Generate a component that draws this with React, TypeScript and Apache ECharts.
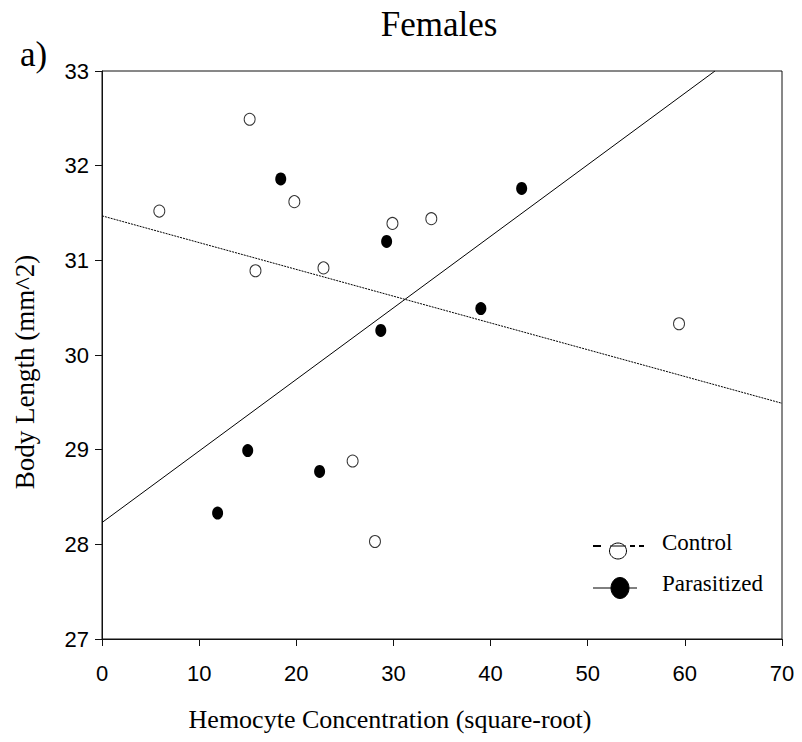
import React, { useEffect, useRef } from "react";
import * as echarts from "echarts";

const titleText = "Females";
const panelLabel = "a)";
const xAxisName = "Hemocyte Concentration (square-root)";
const yAxisName = "Body Length (mm^2)";
const seriesNames = ["Control", "Parasitized"];

const controlX = [5.9, 15.2, 19.8, 15.8, 22.8, 29.9, 33.9, 25.8, 28.1, 59.4];
const controlY = [31.52, 32.49, 31.62, 30.89, 30.92, 31.39, 31.44, 28.88, 28.03, 30.33];

const parasitizedX = [18.4, 29.3, 39.0, 28.7, 15.0, 11.9, 22.4, 43.2];
const parasitizedY = [31.86, 31.2, 30.49, 30.26, 28.99, 28.33, 28.77, 31.76];

// regression line end points
const controlFitX = [0, 70];
const controlFitY = [31.47, 29.49];
const parasitizedFitX = [0, 63.1];
const parasitizedFitY = [28.23, 33];

const xTicks = [0, 10, 20, 30, 40, 50, 60, 70];
const yTicks = [27, 28, 29, 30, 31, 32, 33];

const serif = "'Liberation Serif', 'Times New Roman', serif";
const sans = "'Liberation Sans', Arial, sans-serif";

export default function App() {
  const ref = useRef<HTMLDivElement>(null);

  useEffect(() => {
    if (!ref.current) return;
    const chart = echarts.init(ref.current, undefined, { renderer: "svg" });
    const zip = (xs: number[], ys: number[]) => xs.map((x, i) => [x, ys[i]]);

    chart.setOption({
      animation: false,
      backgroundColor: "#fff",
      grid: {
        left: 102,
        right: 20,
        top: 71,
        bottom: 103,
        show: true,
        borderColor: "#111",
        borderWidth: 1,
        containLabel: false,
      },
      xAxis: {
        type: "value",
        min: xTicks[0],
        max: xTicks[xTicks.length - 1],
        interval: 10,
        axisLine: { show: true, lineStyle: { color: "#111", width: 1 } },
        axisTick: { show: true, inside: false, length: 7, lineStyle: { color: "#111" } },
        axisLabel: { fontFamily: sans, fontSize: 22, color: "#000", margin: 23 },
        splitLine: { show: false },
      },
      yAxis: {
        type: "value",
        min: yTicks[0],
        max: yTicks[yTicks.length - 1],
        interval: 1,
        axisLine: { show: true, lineStyle: { color: "#111", width: 1 } },
        axisTick: { show: true, inside: false, length: 7, lineStyle: { color: "#111" } },
        axisLabel: { fontFamily: sans, fontSize: 22, color: "#000", margin: 13 },
        splitLine: { show: false },
      },
      series: [
        {
          name: seriesNames[0] + " fit",
          type: "line",
          data: zip(controlFitX, controlFitY),
          showSymbol: false,
          lineStyle: { color: "#000", width: 1, type: [2, 1] },
          silent: true,
          z: 1,
        },
        {
          name: seriesNames[1] + " fit",
          type: "line",
          data: zip(parasitizedFitX, parasitizedFitY),
          showSymbol: false,
          lineStyle: { color: "#000", width: 1, type: "solid" },
          silent: true,
          z: 1,
        },
        {
          name: seriesNames[0],
          type: "scatter",
          data: zip(controlX, controlY),
          symbol: "circle",
          symbolSize: [11, 12],
          itemStyle: { color: "#fff", borderColor: "#000", borderWidth: 1 },
          z: 3,
        },
        {
          name: seriesNames[1],
          type: "scatter",
          data: zip(parasitizedX, parasitizedY),
          symbol: "circle",
          symbolSize: [11, 13],
          itemStyle: { color: "#000", opacity: 1 },
          z: 3,
        },
      ],
      graphic: [
        {
          type: "text",
          position: [439, 24],
          style: {
            text: titleText,
            fontFamily: serif,
            fontSize: 35,
            fill: "#000",
            align: "center",
            verticalAlign: "middle",
          },
        },
        {
          type: "text",
          position: [20, 54],
          style: {
            text: panelLabel,
            fontFamily: serif,
            fontSize: 35,
            fill: "#000",
            align: "left",
            verticalAlign: "middle",
          },
        },
        {
          type: "text",
          position: [390, 719],
          style: {
            text: xAxisName,
            fontFamily: serif,
            fontSize: 26,
            fill: "#000",
            align: "center",
            verticalAlign: "middle",
          },
        },
        {
          type: "text",
          position: [25, 372],
          rotation: Math.PI / 2,
          style: {
            text: yAxisName,
            fontFamily: serif,
            fontSize: 27,
            fill: "#000",
            align: "center",
            verticalAlign: "middle",
          },
        },
        // legend: Control
        { type: "line", shape: { x1: 593, y1: 546, x2: 601, y2: 546 }, style: { stroke: "#000", lineWidth: 2 } },
        { type: "line", shape: { x1: 630, y1: 546, x2: 635, y2: 546 }, style: { stroke: "#000", lineWidth: 2 } },
        { type: "line", shape: { x1: 639, y1: 546, x2: 644, y2: 546 }, style: { stroke: "#000", lineWidth: 2 } },
        { type: "ellipse", shape: { cx: 618, cy: 551, rx: 8.5, ry: 8 }, style: { fill: "#fff", stroke: "#000", lineWidth: 1 } },
        { type: "line", shape: { x1: 610, y1: 546, x2: 626, y2: 546 }, style: { stroke: "#000", lineWidth: 1 } },
        {
          type: "text",
          position: [662, 542],
          style: { text: seriesNames[0], fontFamily: serif, fontSize: 23, fill: "#000", align: "left", verticalAlign: "middle" },
        },
        // legend: Parasitized
        { type: "line", shape: { x1: 593, y1: 588, x2: 637, y2: 588 }, style: { stroke: "#000", lineWidth: 1 } },
        { type: "ellipse", shape: { cx: 620, cy: 588, rx: 9, ry: 10.5 }, style: { fill: "#000", stroke: "#000", lineWidth: 1 } },
        {
          type: "text",
          position: [662, 583],
          style: { text: seriesNames[1], fontFamily: serif, fontSize: 23, fill: "#000", align: "left", verticalAlign: "middle" },
        },
      ],
    });

    return () => chart.dispose();
  }, []);

  return (
    <div
      ref={ref}
      style={{ position: "fixed", left: 0, top: 0, width: 802, height: 742, background: "#fff" }}
    />
  );
}
